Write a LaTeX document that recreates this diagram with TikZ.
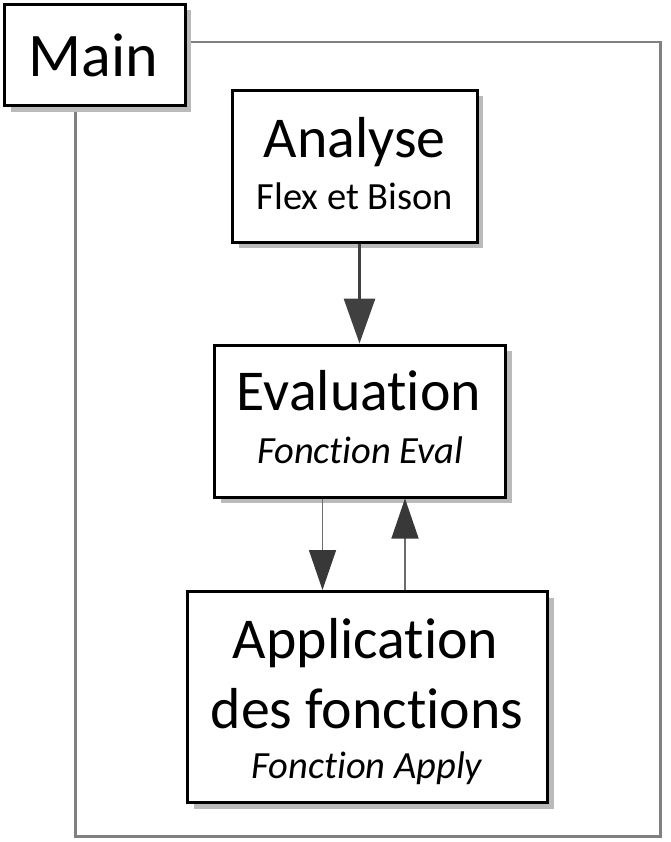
\documentclass[tikz,border=0pt]{standalone}
\usepackage{fontspec}
\setmainfont{Carlito}[Ligatures=CommonOff]
\usetikzlibrary{arrows.meta,shadows,calc}
\newcommand{\titlesize}{\fontsize{57.8}{60}\selectfont}
\newcommand{\mainsize}{\fontsize{62}{64}\selectfont}
\newcommand{\subsize}{\fontsize{38.5}{40}\selectfont}
\tikzset{
  blockbox/.style={draw=black,line width=3pt,fill=white,inner sep=0pt,
    drop shadow={shadow xshift=6pt,shadow yshift=-6pt,fill=black!27,opacity=1}},
  txt/.style={anchor=base,inner sep=0pt,outer sep=0pt},
  bigarrow/.style={draw=black!75,line width=3pt,-{Triangle[length=45pt,width=31pt]},fill=black!78},
  thinarrow/.style={draw=black!58,line width=1.5pt,-{Triangle[length=40pt,width=27pt,fill=black!78,color=black!78]}},
  framebox/.style={draw=black!50,line width=2.5pt,inner sep=0pt}
}
\begin{document}
\begin{tikzpicture}[x=1pt,y=-1pt]
\useasboundingbox (0,0) rectangle (670,842);
% outer frame
\node[framebox,minimum width=585pt,minimum height=794.5pt] (frame) at (368,439.25) {};
% boxes
\node[blockbox,minimum width=180.5pt,minimum height=101.5pt] (Main) at (95,55.25) {};
\node[blockbox,minimum width=244.5pt,minimum height=151.5pt] (Analyse) at (354.75,166.25) {};
\node[blockbox,minimum width=291pt,minimum height=152pt] (Evaluation) at (360,421) {};
\node[blockbox,minimum width=360pt,minimum height=211pt] (Application) at (367.5,697) {};
% texts
\node[txt] (tMain) at (93.5,77) {\mainsize Main};
\node[txt] (tAn) at (354.5,158) {\titlesize Analyse};
\node[txt] (tAnS) at (355,210) {\subsize Flex et Bison};
\node[txt] (tEv) at (359,410) {\titlesize Evaluation};
\node[txt] (tEvS) at (360.5,463) {\subsize\itshape Fonction Eval};
\node[txt] (tAp) at (365.5,658) {\titlesize Application};
\node[txt] (tAp2) at (367,728) {\titlesize des fonctions};
\node[txt] (tApS) at (367,778) {\subsize\itshape Fonction Apply};
% connectors
\draw[bigarrow] ([xshift=4.75pt]Analyse.south) -- ([xshift=4.75pt]Analyse.south |- Evaluation.north);
\draw[thinarrow] ([xshift=-37.5pt]Evaluation.south) -- ([xshift=-37.5pt]Evaluation.south |- Application.north);
\draw[thinarrow] ([xshift=45pt]Evaluation.south |- Application.north) -- ([xshift=45pt]Evaluation.south);
\end{tikzpicture}
\end{document}
